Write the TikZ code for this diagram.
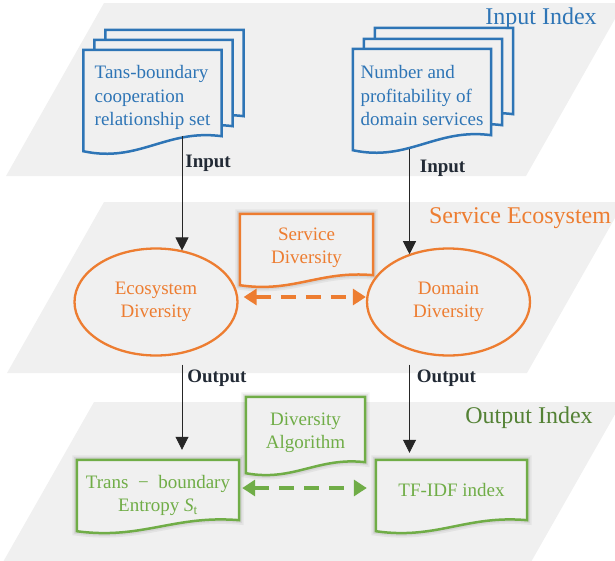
\documentclass[tikz,border=0pt]{standalone}
\usepackage{fontspec}
\setmainfont{Liberation Serif}
\usetikzlibrary{arrows.meta, shapes.geometric, calc, positioning}

\definecolor{layergray}{HTML}{F0F0F0}
\definecolor{docblue}{HTML}{2E75B6}
\definecolor{ecoorange}{HTML}{ED7D31}
\definecolor{algogreen}{HTML}{70AD47}
\definecolor{idxgreen}{HTML}{548235}
\definecolor{labelnavy}{HTML}{222A35}

\pgfdeclarelayer{plane}
\pgfdeclarelayer{paper}
\pgfsetlayers{plane,paper,main}

% document outline round a node (style, node, depth of the wave)
\newcommand{\drawdoc}[3]{%
  \draw[#1] (#2.north west) -- (#2.north east) -- (#2.south east)
    .. controls ($(#2.south west)!0.6!(#2.south east)+(0,-0.5*#3)$)
    and ($(#2.south west)!0.4!(#2.south east)+(0,1.8*#3)$)
    .. ($(#2.south west)+(0,#3)$) -- cycle;}

\tikzset{
  docfont/.style={font=\fontsize{19}{23.5}\selectfont},
  bluedoc/.style={docfont, minimum width=138pt, minimum height=86pt, inner sep=0pt, align=left, text=docblue},
  softdoc/.style={docfont, inner sep=0pt, align=center},
  bluepage/.style={draw=docblue, line width=2.5pt, fill=layergray},
  halo/.style={preaction={draw=black, draw opacity=0.05, line width=9pt},
               preaction={draw=black, draw opacity=0.06, line width=5.5pt}},
  orangepage/.style={halo, draw=ecoorange, line width=2.5pt, fill=layergray},
  greenpage/.style={halo, draw=algogreen, line width=2.5pt, fill=layergray},
  ecoell/.style={ellipse, docfont, draw=ecoorange, line width=2.3pt, minimum width=163pt, minimum height=107pt, inner sep=0pt, align=center, text=ecoorange},
  flow/.style={-{Triangle[width=13pt,length=13pt]}, line width=0.8pt, black!85},
  twoway/.style={{Triangle[width=16pt,length=13pt]}-{Triangle[width=16pt,length=13pt]}, line width=4pt, dash pattern=on 15pt off 10pt},
  tag/.style={font=\fontsize{19}{22}\selectfont\bfseries, text=labelnavy, anchor=west, inner sep=0pt},
  title/.style={font=\fontsize{24}{28}\selectfont, inner sep=0pt}
}

\begin{document}
\begin{tikzpicture}[x=1pt, y=-1pt]
    \useasboundingbox (0,0) rectangle (615,560);

    % input index
    \node[bluedoc, text height=70pt] (tbset)  at (152.5,93) {Tans-boundary\\cooperation\\relationship set};
    \node[bluedoc] (tbset2) at ([shift={(11,-10)}]tbset.center) {};
    \node[bluedoc] (tbset3) at ([shift={(22,-20)}]tbset.center) {};
    \node[bluedoc, text height=68pt] (nsdoc)  at (422,92) {Number and\\profitability of\\domain services};
    \node[bluedoc] (nsdoc2) at ([shift={(11,-10)}]nsdoc.center) {};
    \node[bluedoc] (nsdoc3) at ([shift={(22,-21)}]nsdoc.center) {};
    \node[title, text=docblue] (inidx) at (541,19) {Input Index};

    % service ecosystem
    \node[ecoell] (eco) at (156,302) {Ecosystem\\Diversity};
    \node[ecoell] (dom) at (448.5,302) {Domain\\Diversity};
    \node[softdoc, text=ecoorange, text height=43pt, minimum width=133pt, minimum height=61pt] (svdiv) at (306.5,244.5) {Service\\Diversity};
    \node[title, text=ecoorange] (svidx) at (520,218) {Service Ecosystem};

    % output index
    \node[softdoc, text=algogreen, text height=43pt, minimum width=119pt, minimum height=65pt] (divalg) at (305.5,429.5) {Diversity\\Algorithm};
    \node[softdoc, text=algogreen, text height=48pt, minimum width=162pt, minimum height=60pt] (tbent) at (158,490) {Trans\enspace−\enspace boundary\\Entropy \textit{S}\textsubscript{t}};
    \node[softdoc, text=algogreen, minimum width=151pt, minimum height=60pt] (tfidf) at (451.5,490) {TF-IDF index};
    \node[title, text=idxgreen] (outidx) at (529,418) {Output Index};

    \begin{pgfonlayer}{plane}
        \clip (0,0) rectangle (615,560);
        \fill[layergray] (104,3) -- (624,3) -- (526,176) -- (6,176) -- cycle;
        \fill[layergray] (104,202) -- (624,202) -- (527,373) -- (7,373) -- cycle;
        \fill[layergray] (94,402) -- (622,402) -- (531,562) -- (3,562) -- cycle;
    \end{pgfonlayer}

    \begin{pgfonlayer}{paper}
        \foreach \n in {tbset3, tbset2, tbset, nsdoc3, nsdoc2, nsdoc}
            {\drawdoc{bluepage}{\n}{15}}
        \drawdoc{orangepage}{svdiv}{10}
        \drawdoc{greenpage}{divalg}{11}
        \drawdoc{greenpage}{tbent}{11}
        \drawdoc{greenpage}{tfidf}{11}
    \end{pgfonlayer}

    \coordinate (lx) at (182,0);
    \coordinate (rx) at (409.5,0);

    \draw[flow] (lx |- tbset.south) -- (lx |- eco.62)
        node[tag, pos=0.234, xshift=3pt] (inl) {Input};
    \draw[flow, shorten <=14pt] (rx |- nsdoc.south) -- (rx |- dom.130)
        node[tag, pos=0.275, xshift=10pt] (inr) {Input};
    \draw[flow, shorten <=8pt, shorten >=10pt] (lx |- eco.south) -- (lx |- tbent.north)
        node[tag, pos=0.206, xshift=5pt] (outl) {Output};
    \draw[flow, shorten <=8pt, shorten >=7pt] (rx |- dom.south) -- (rx |- tfidf.north)
        node[tag, pos=0.206, xshift=7pt] (outr) {Output};

    \draw[twoway, ecoorange, shorten <=5pt] ([yshift=5pt]eco.east) -- ([yshift=5pt]dom.west);
    \draw[twoway, algogreen, shorten <=3pt, shorten >=9pt] ([yshift=2pt]tbent.east) -- ([yshift=2pt]tfidf.west);
\end{tikzpicture}
\end{document}
